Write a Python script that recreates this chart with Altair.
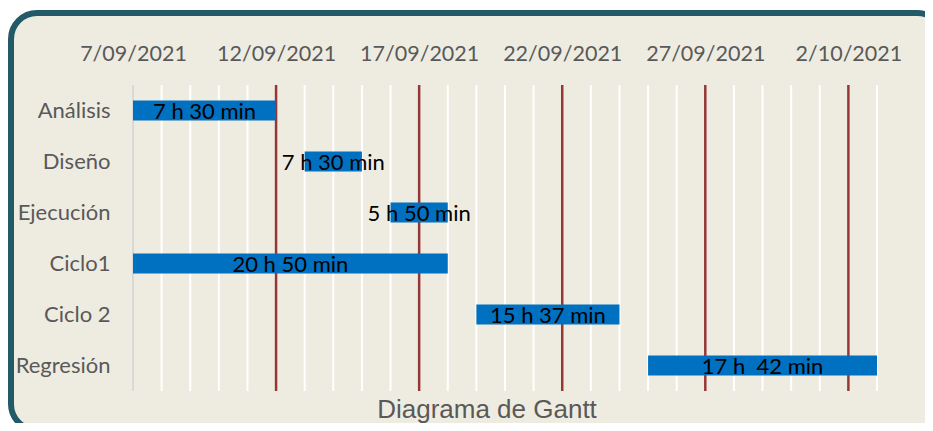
import altair as alt
import pandas as pd

# ---- data ----
TASKS = ["Análisis", "Diseño", "Ejecución", "Ciclo1", "Ciclo 2", "Regresión"]
STARTS = ["2021-09-07", "2021-09-13", "2021-09-16", "2021-09-07", "2021-09-19", "2021-09-25"]
ENDS = ["2021-09-12", "2021-09-15", "2021-09-18", "2021-09-18", "2021-09-24", "2021-10-03"]
LABELS = ["7 h 30 min", "7 h 30 min", "5 h 50 min", "20 h 50 min", "15 h 37 min", "17 h\u00a0 42 min"]

DOMAIN_START = "2021-09-07"
DOMAIN_END = "2021-10-03"
MAJOR_TICKS = ["2021-09-07", "2021-09-12", "2021-09-17", "2021-09-22", "2021-09-27", "2021-10-02"]
TICK_LABELS = ["7/09/2021", "12/09/2021", "17/09/2021", "22/09/2021", "27/09/2021", "2/10/2021"]

GRID_DAYS = [d.strftime("%Y-%m-%d") for d in pd.date_range(DOMAIN_START, DOMAIN_END, freq="D")]

tasks = pd.DataFrame({"task": TASKS, "start": STARTS, "end": ENDS, "label": LABELS})
grid = pd.DataFrame({"day": GRID_DAYS})
major = pd.DataFrame({"day": MAJOR_TICKS[1:]})
first = pd.DataFrame({"day": MAJOR_TICKS[:1]})


def dt(s):
    y, m, d = map(int, s.split("-"))
    return alt.DateTime(year=y, month=m, date=d, utc=True)


label_map = "{" + ",".join(f"'{dt_}':'{lab}'" for dt_, lab in zip(MAJOR_TICKS, TICK_LABELS)) + "}"

x_scale = alt.Scale(type="utc", domain=[dt(DOMAIN_START), dt(DOMAIN_END)], nice=False)
x_axis = alt.Axis(
    orient="top",
    values=[dt(s) for s in MAJOR_TICKS],
    labelExpr=f"{label_map}[utcFormat(datum.value, '%Y-%m-%d')]",
    title=None,
    ticks=False,
    tickSize=0,
    domain=False,
    grid=False,
    labelFont="Lato",
    labelFontSize=21.5,
    labelColor="#595959",
    labelPadding=25,
    labelBaseline="alphabetic",
    labelOverlap=False,
    labelFlush=False,
    labelBound=False,
    zindex=1,
)
y_scale = alt.Scale(domain=TASKS, paddingInner=0.6, paddingOuter=0.3)
y_axis = alt.Axis(
    title=None,
    ticks=False,
    domain=False,
    grid=False,
    labelFont="Lato",
    labelFontSize=22,
    labelColor="#595959",
    labelPadding=23,
    labelBaseline="middle",
    zindex=1,
)

PLOT_W, PLOT_H = 744, 306

frame = alt.Chart(pd.DataFrame({"a": [0]})).mark_rect(
    fill="#EEECE1", stroke="#225A68", strokeWidth=6, cornerRadius=26
).encode(
    x=alt.value(-122), x2=alt.value(810), y=alt.value(-72), y2=alt.value(345)
)

white_rules = alt.Chart(grid).mark_rule(color="white", strokeWidth=2).encode(
    x=alt.X("day:T", scale=x_scale, axis=x_axis)
)
red_rules = alt.Chart(major).mark_rule(color="#953735", strokeWidth=2.5).encode(
    x=alt.X("day:T", scale=x_scale, axis=x_axis)
)
gray_rule = alt.Chart(first).mark_rule(color="#D9D9D9", strokeWidth=2).encode(
    x=alt.X("day:T", scale=x_scale, axis=x_axis)
)

bars = alt.Chart(tasks).mark_bar(color="#0070C0", height=20).encode(
    y=alt.Y("task:N", scale=y_scale, axis=y_axis, sort=TASKS),
    x=alt.X("start:T", scale=x_scale, axis=x_axis),
    x2="end:T",
)

texts = alt.Chart(tasks).transform_calculate(
    mid="(toDate(datum.start) + toDate(datum.end)) / 2"
).mark_text(
    font="Lato", fontSize=22, color="black", align="center", baseline="middle", dy=1
).encode(
    y=alt.Y("task:N", scale=y_scale, axis=y_axis, sort=TASKS),
    x=alt.X("mid:T", scale=x_scale, axis=x_axis),
    text="label:N",
)

chart = alt.layer(frame, white_rules, red_rules, gray_rule, bars, texts).properties(
    width=PLOT_W,
    height=PLOT_H,
    autosize=alt.AutoSizeParams(type="none"),
    padding={"left": 125, "top": 77, "right": 48, "bottom": 32},
    background="white",
    title=alt.TitleParams(
        "Diagrama de Gantt",
        orient="bottom",
        frame="group",
        anchor="middle",
        font="Liberation Sans",
        fontSize=26,
        fontWeight="normal",
        color="#595959",
        baseline="alphabetic",
        offset=0,
        dy=-15,
        dx=-18,
        zindex=1,
    ),
).configure_view(stroke=None)

chart.save("out.html", embed_options={"renderer": "svg", "actions": False})
